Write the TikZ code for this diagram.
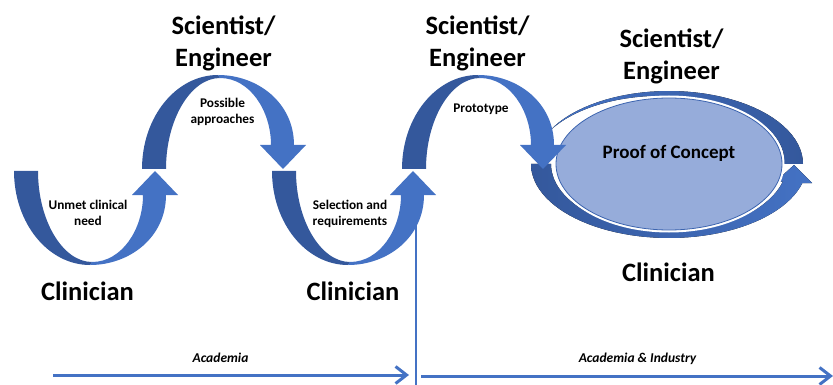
\documentclass[tikz,border=0pt]{standalone}
\usepackage{fontspec}
\setmainfont{Carlito}
\usetikzlibrary{arrows.meta, shapes.geometric, positioning, calc}
\definecolor{backblue}{RGB}{52,88,156}
\definecolor{frontblue}{RGB}{68,114,196}
\definecolor{pocblue}{RGB}{150,172,218}
\definecolor{pocline}{RGB}{60,100,175}

\begin{document}
\begin{tikzpicture}[x=1pt, y=-1pt,
  role/.style={font=\fontsize{26.5}{32}\selectfont\bfseries, align=center, inner sep=0pt},
  steplabel/.style={font=\fontsize{13.3}{16.5}\selectfont\bfseries, align=center, inner sep=0pt},
  sector/.style={font=\fontsize{13.5}{16}\selectfont\bfseries\itshape, inner sep=0pt, anchor=base},
  timeline/.style={draw=frontblue, line width=3pt, -{Straight Barb[length=11pt, width=17pt]}},
  uarrow/.pic={
    % back arm
    \fill[backblue] (-76,0) .. controls (-76,52) and (-42,94) .. (0,94)
      -- (2,91) .. controls (-27,91) and (-52,50) .. (-52,0) -- cycle;
    % front arm and head
    \fill[frontblue] (0,94) .. controls (40,94) and (76,66) .. (76,24)
      -- (88,24) -- (65,0) -- (42,24) -- (53,24)
      .. controls (53,58) and (32,91) .. (2,91) -- cycle;
  }]
\useasboundingbox (0,0) rectangle (833,385);

% divider between the two phases
\coordinate (divtop) at (416,200);
\coordinate (divbot) at (416,385);
\draw[frontblue, line width=2.5pt] (divtop) -- (divbot);

% loop round the proof of concept
\fill[left color=frontblue, right color=backblue]
  plot[domain=153:0, samples=40] ({669+134*cos(\x)}, {164-73*sin(\x)})
  -- plot[domain=0:153, samples=40] ({669+(134-19*(153-\x)/153)*cos(\x)}, {164-(73-12*(153-\x)/153)*sin(\x)})
  -- cycle;
\fill[left color=backblue, right color=frontblue]
  plot[domain=180:345, samples=50] ({669+138*cos(\x)}, {164-74*sin(\x)})
  -- (812,183) -- (794,165) -- (774,183)
  -- plot[domain=345:180, samples=50] ({669+118*cos(\x)}, {164-67*sin(\x)})
  -- cycle;
\node[ellipse, minimum width=226pt, minimum height=132pt, inner sep=0pt, fill=pocblue,
  draw=pocline, line width=0.8pt, preaction={draw=white, line width=5pt}] (poc) at (669,164) {};
\node[font=\fontsize{19}{22}\selectfont\bfseries, anchor=base, inner sep=0pt] (poclabel)
  at ([yshift=5pt]poc.center) {Proof of Concept};

% the four curved steps
\pic at (90,171) {uarrow};
\pic[yscale=-1] at (218,169) {uarrow};
\pic at (348,171) {uarrow};
\pic[yscale=-1] at (478,169) {uarrow};

% roles
\node[role] (sci1) at (223.5,43) {Scientist/\\Engineer};
\node[role] (sci2) at (477.5,43) {Scientist/\\Engineer};
\node[role] (sci3) at (671.5,56) {Scientist/\\Engineer};
\node[role, anchor=base] (cli1) at (87.5,300) {Clinician};
\node[role, anchor=base] (cli2) at (353,300) {Clinician};
\node[role, anchor=base] (cli3) at (668.5,281) {Clinician};

% step labels
\node[steplabel] (unmet) at (88,213) {Unmet clinical\\need};
\node[steplabel] (approach) at (222.5,112) {Possible\\approaches};
\node[steplabel] (select) at (350,214) {Selection and\\requirements};
\node[steplabel, anchor=base] (proto) at (481,113) {Prototype};

% phases
\node[sector] (acad) at (220.5,362) {Academia};
\node[sector] (acadind) at (637.5,362) {Academia \& Industry};
\coordinate (acadstart) at (53,375);
\coordinate (acadend) at (409,375);
\coordinate (indstart) at (421,376);
\coordinate (indend) at (833,376);
\draw[timeline] (acadstart) -- (acadend);
\draw[timeline] (indstart) -- (indend);
\end{tikzpicture}
\end{document}
